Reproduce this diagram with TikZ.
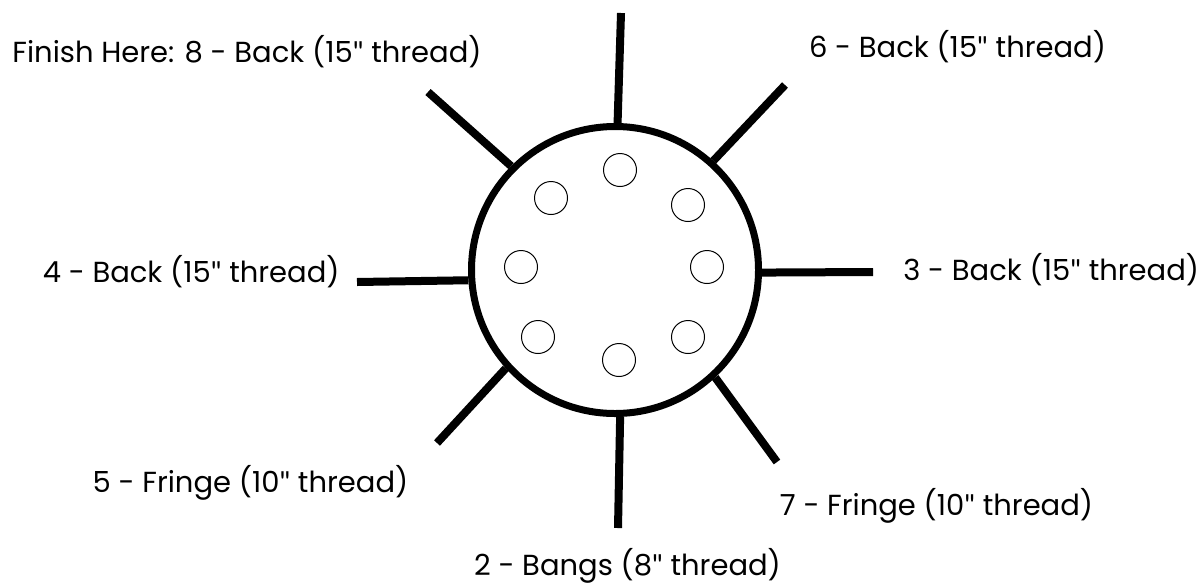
\documentclass[tikz,border=0pt]{standalone}
\usepackage{fontspec}
\setmainfont{Poppins}
\newfontfamily\quotefont{Lato}
\newcommand{\inch}{{\quotefont"}}
\usetikzlibrary{positioning}

\begin{document}
\begin{tikzpicture}[
    x=0.5pt, y=-0.5pt,
    hub/.style={circle, draw, line width=3.5pt, minimum size=143.5pt, inner sep=0pt},
    hole/.style={circle, draw, line width=0.5pt, minimum size=16.5pt, inner sep=0pt},
    spoke/.style={line width=4pt},
    lbl/.style={font=\fontsize{14.5}{17}\selectfont, inner sep=0pt},
  ]
  \useasboundingbox (0,0) rectangle (1202,584);

  \node[hub] (hub) at (615,270) {};

  % holes
  \node[hole] (h1) at (620,170) {};
  \node[hole] (h2) at (551,198) {};
  \node[hole] (h3) at (688,205) {};
  \node[hole] (h4) at (521,267) {};
  \node[hole] (h5) at (707,267) {};
  \node[hole] (h6) at (538,337) {};
  \node[hole] (h7) at (688,337) {};
  \node[hole] (h8) at (619,360) {};

  % thread ends
  \coordinate (t1) at (621,13);
  \coordinate (t6) at (785,85);
  \coordinate (t3) at (873,272);
  \coordinate (t7) at (777,462);
  \coordinate (t2) at (618,528);
  \coordinate (t5) at (437,443);
  \coordinate (t4) at (357,282);
  \coordinate (t8) at (428,92);

  \draw[spoke] (hub.89)   -- (t1);
  \draw[spoke] (hub.48)   -- (t6);
  \draw[spoke] (hub.-1)   -- (t3);
  \draw[spoke] (hub.-47)  -- (t7);
  \draw[spoke] (hub.-88)  -- (t2);
  \draw[spoke] (hub.-138) -- (t5);
  \draw[spoke] (hub.184)  -- (t4);
  \draw[spoke] (hub.135)  -- (t8);

  \node[lbl, anchor=base]      (l8) at (247,62)    {Finish Here: 8 - Back (15\inch{} thread)};
  \node[lbl, anchor=base]      (l6) at (957.5,57)  {6 - Back (15\inch{} thread)};
  \node[lbl, anchor=base east] (l4) at (340,282)   {4 - Back (15\inch{} thread)};
  \node[lbl, anchor=base west] (l3) at (903,280)   {3 - Back (15\inch{} thread)};
  \node[lbl, anchor=base]      (l5) at (250.5,492) {5 - Fringe (10\inch{} thread)};
  \node[lbl, anchor=base]      (l7) at (936.5,515) {7 - Fringe (10\inch{} thread)};
  \node[lbl, anchor=base]      (l2) at (627.5,575) {2 - Bangs (8\inch{} thread)};
\end{tikzpicture}
\end{document}
